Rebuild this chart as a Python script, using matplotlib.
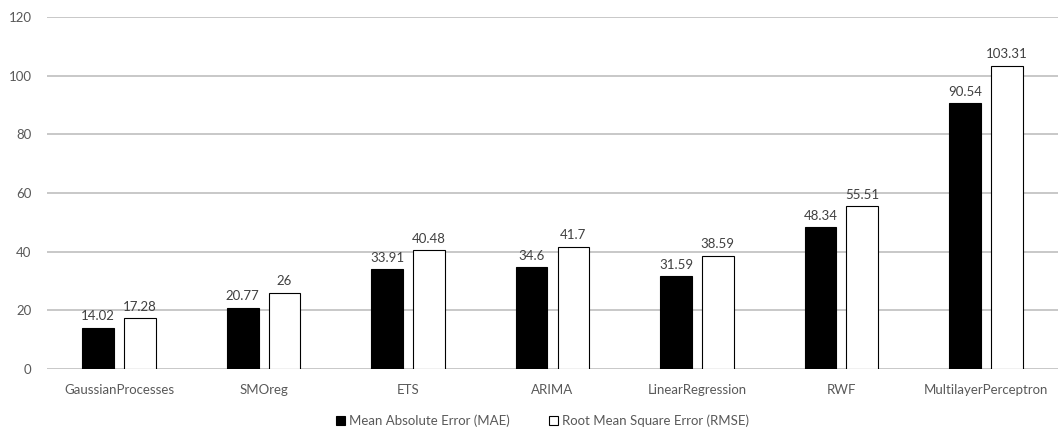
import numpy as np
import matplotlib.pyplot as plt

plt.rcParams['font.family'] = ['Lato', 'DejaVu Sans']

models = ['GaussianProcesses', 'SMOreg', 'ETS', 'ARIMA', 'LinearRegression', 'RWF', 'MultilayerPerceptron']
mae = [14.02, 20.77, 33.91, 34.6, 31.59, 48.34, 90.54]
rmse = [17.28, 26, 40.48, 41.7, 38.59, 55.51, 103.31]
mae_labels = ['14.02', '20.77', '33.91', '34.6', '31.59', '48.34', '90.54']
rmse_labels = ['17.28', '26', '40.48', '41.7', '38.59', '55.51', '103.31']

txt = '#595959'
fig = plt.figure(figsize=(10.58, 4.32), dpi=100)
ax = fig.add_axes([0.0444, 0.146, 0.9556, 0.815])

x = np.arange(len(models))
w = 0.22
b1 = ax.bar(x - 0.145, mae, w, color='black', edgecolor='black', linewidth=0.8,
            label='Mean Absolute Error (MAE)', zorder=3)
b2 = ax.bar(x + 0.145, rmse, w, color='white', edgecolor='black', linewidth=0.8,
            label='Root Mean Square Error (RMSE)', zorder=3)

# value labels above each bar
for bars, labs in [(b1, mae_labels), (b2, rmse_labels)]:
    for r, s in zip(bars, labs):
        ax.annotate(s, (r.get_x() + r.get_width() / 2, r.get_height()),
                    xytext=(0, 4), textcoords='offset points',
                    ha='center', va='bottom', fontsize=9.5, color='#404040')

ax.set_xlim(-0.5, len(models) - 0.5)
ax.set_ylim(0, 120)
ax.set_yticks(range(0, 121, 20))
ax.set_xticks(x)
ax.set_xticklabels(models)
ax.tick_params(axis='both', length=0, labelsize=9.5, colors=txt)
ax.tick_params(axis='x', pad=11)
ax.tick_params(axis='y', pad=11)
ax.yaxis.grid(True, color='#bfbfbf', linewidth=1.2, zorder=0)
for s in ax.spines.values():
    s.set_visible(False)

leg = ax.legend(loc='upper center', bbox_to_anchor=(0.49, -0.095), ncol=2, frameon=False,
                fontsize=9.5, handlelength=0.7, handleheight=0.7, handletextpad=0.3,
                columnspacing=3)
for t in leg.get_texts():
    t.set_color(txt)

fig.savefig('out.png', dpi=100)
